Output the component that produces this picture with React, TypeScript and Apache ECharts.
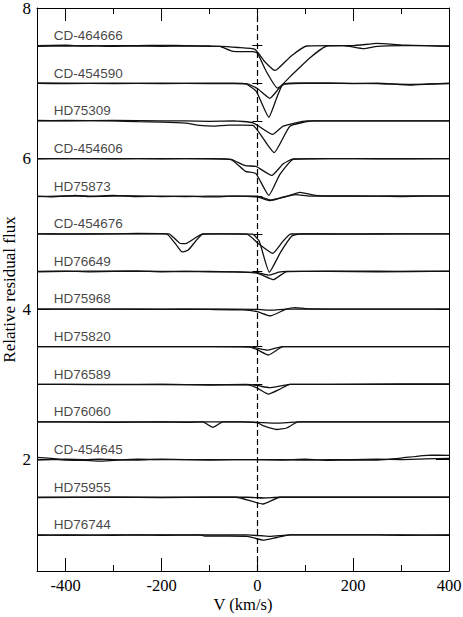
import React, { useEffect, useRef } from "react";
import * as echarts from "echarts";

// Star names (top to bottom) and vertical offsets added to normalised flux
const starNames = [
  "CD-464666", "CD-454590", "HD75309", "CD-454606", "HD75873", "CD-454676", "HD76649",
  "HD75968", "HD75820", "HD76589", "HD76060", "CD-454645", "HD75955", "HD76744",
];
const offsets = [6.5, 6.0, 5.5, 5.0, 4.5, 4.0, 3.5, 3.0, 2.5, 2.0, 1.5, 1.0, 0.5, 0.0];

// Tick values
const xMajorTicks = [-400, -200, 0, 200, 400];
const xMinorTicks = [-300, -100, 100, 300];
const yMajorTicks = [2, 4, 6, 8];
const yMinorTicks = [1, 1.5, 2.5, 3, 3.5, 4.5, 5, 5.5, 6.5, 7, 7.5];

// Profiles: [velocity km/s, normalised flux]
const cd464666_a = [[-460,1.0],[-400,1.005],[-366,0.995],[-300,1.0],[-250,1.0],[-200,1.003],[-150,1.0],[-100,0.995],[-78,0.99],[-51,0.925],[-9,0.92],[0,0.9],[20,0.64],[42,0.435],[75,0.63],[110,0.84],[145,0.995],[180,1.0],[222,0.96],[250,0.99],[300,1.0],[350,1.0],[400,0.99]];
const cd464666_b = [[-460,0.99],[-400,0.995],[-350,1.0],[-300,0.99],[-250,0.995],[-200,0.99],[-150,0.995],[-100,0.99],[-78,0.99],[-40,0.975],[-5,0.95],[15,0.79],[37,0.67],[70,0.86],[103,0.995],[150,1.0],[200,1.0],[250,1.03],[300,1.01],[350,1.0],[400,0.995]];

const cd454590_a = [[-460,1.0],[-400,0.995],[-300,1.0],[-200,0.995],[-100,1.0],[-50,1.0],[-23,0.99],[-2,0.89],[24,0.55],[40,0.8],[54,0.99],[100,1.0],[150,1.0],[200,0.995],[250,1.0],[320,0.975],[360,0.99],[400,1.0]];
const cd454590_b = [[-460,1.0],[-400,1.0],[-300,0.995],[-200,1.0],[-100,0.995],[-23,0.995],[0,0.93],[26,0.8],[45,0.93],[56,0.99],[80,1.0],[150,1.0],[250,0.995],[320,0.985],[400,0.995]];

const hd75309_a = [[-460,1.0],[-400,1.005],[-300,1.0],[-250,0.99],[-200,0.985],[-150,0.97],[-120,0.94],[-93,0.93],[-60,0.945],[-30,0.945],[-9,0.94],[35,0.58],[68,0.93],[117,1.0],[200,1.0],[300,1.0],[400,1.0]];
const hd75309_b = [[-460,1.005],[-400,1.0],[-300,1.005],[-200,1.0],[-150,1.0],[-100,0.995],[-50,1.0],[-9,0.975],[32,0.82],[54,0.93],[103,1.0],[200,1.0],[300,1.0],[400,1.0]];

const cd454606_a = [[-460,1.0],[-400,1.0],[-300,1.0],[-200,0.995],[-100,1.0],[-55,0.99],[-25,0.905],[-3,0.895],[30,0.775],[54,0.93],[75,0.995],[150,1.0],[250,1.0],[400,1.0]];
const cd454606_b = [[-460,0.995],[-400,1.0],[-300,0.995],[-200,1.0],[-100,0.995],[-55,0.985],[-25,0.83],[-3,0.8],[24,0.51],[47,0.79],[75,0.99],[150,1.0],[250,0.995],[400,1.0]];

const hd75873_a = [[-460,1.0],[-430,0.99],[-400,1.0],[-380,1.01],[-350,0.995],[-300,1.0],[-250,1.005],[-200,0.995],[-150,1.0],[-93,0.99],[-50,1.0],[0,0.99],[26,0.94],[60,0.995],[89,1.05],[120,1.01],[150,1.0],[250,1.0],[300,1.005],[400,1.0]];
const hd75873_b = [[-460,0.995],[-400,1.005],[-350,1.0],[-300,1.01],[-250,0.995],[-200,1.0],[-150,0.995],[-100,1.0],[-50,1.0],[0,1.0],[28,0.95],[55,0.99],[80,1.02],[110,1.0],[200,1.005],[300,0.995],[400,1.005]];

const cd454676_a = [[-460,1.0],[-400,1.0],[-300,1.0],[-250,1.005],[-190,1.0],[-170,0.86],[-157,0.76],[-145,0.78],[-114,0.995],[-80,1.0],[-40,1.0],[-10,0.995],[4,0.9],[25,0.49],[48,0.75],[72,0.97],[90,1.0],[200,1.0],[300,1.0],[400,1.0]];
const cd454676_b = [[-460,1.0],[-400,0.995],[-300,1.0],[-250,1.0],[-185,1.0],[-162,0.875],[-150,0.87],[-114,1.0],[-80,1.0],[-22,0.995],[4,0.86],[32,0.74],[52,0.89],[70,1.0],[200,0.995],[300,1.0],[400,1.0]];

const hd76649_a = [[-460,1.0],[-400,1.005],[-350,0.995],[-300,1.0],[-250,1.005],[-200,0.995],[-150,1.0],[-100,0.995],[-50,0.995],[-10,0.985],[5,0.965],[33,0.89],[60,0.995],[100,1.0],[200,1.005],[300,1.0],[400,1.0]];
const hd76649_b = [[-460,0.995],[-400,1.0],[-300,1.005],[-200,1.0],[-100,1.0],[-50,0.995],[0,0.985],[23,0.95],[45,0.99],[60,1.0],[150,1.0],[250,0.995],[400,1.005]];

const hd75968_a = [[-460,1.0],[-400,1.0],[-300,1.0],[-200,1.0],[-100,0.995],[-30,0.99],[0,0.965],[27,0.91],[60,1.0],[80,1.02],[100,1.005],[150,1.0],[250,1.0],[400,1.0]];
const hd75968_b = [[-460,1.0],[-400,1.0],[-300,1.0],[-200,0.995],[-100,1.0],[0,0.995],[30,0.985],[60,1.0],[100,1.0],[200,1.0],[300,1.0],[400,1.0]];

const hd75820_a = [[-460,1.0],[-300,1.0],[-200,1.0],[-100,1.0],[-16,0.995],[0,0.96],[23,0.89],[54,1.0],[150,1.0],[300,1.0],[400,1.0]];
const hd75820_b = [[-460,1.0],[-300,1.0],[-200,1.0],[-100,1.0],[-16,1.0],[0,0.98],[20,0.955],[40,0.985],[54,1.0],[200,1.0],[400,1.0]];

const hd76589_a = [[-460,1.0],[-400,1.0],[-300,0.995],[-200,1.0],[-100,0.99],[-23,0.995],[0,0.95],[23,0.87],[45,0.93],[68,1.0],[150,1.0],[300,1.005],[400,1.005]];
const hd76589_b = [[-460,1.0],[-300,1.0],[-200,1.0],[-100,0.995],[-23,1.0],[0,0.985],[25,0.955],[68,1.0],[200,1.0],[400,1.0]];

const hd76060_a = [[-460,1.0],[-400,1.0],[-300,0.995],[-200,1.0],[-150,0.995],[-114,1.0],[-93,0.93],[-72,1.0],[-30,1.0],[0,0.99],[12,0.95],[40,0.9],[61,0.92],[85,1.0],[150,1.0],[300,1.0],[400,1.0]];
const hd76060_b = [[-460,1.0],[-300,1.0],[-200,1.0],[-100,1.0],[-30,1.0],[0,0.995],[40,0.985],[85,1.0],[200,1.0],[400,1.0]];

const cd454645_a = [[-460,1.03],[-430,1.015],[-400,0.995],[-360,0.99],[-330,0.98],[-300,0.99],[-250,1.005],[-200,1.0],[-150,1.0],[-100,0.995],[-50,1.0],[0,1.0],[50,0.995],[100,1.005],[150,0.99],[200,0.995],[250,0.995],[300,1.02],[360,1.06],[400,1.055]];
const cd454645_b = [[-460,0.995],[-430,1.0],[-400,1.005],[-360,1.0],[-330,1.005],[-300,1.0],[-250,0.995],[-200,1.005],[-150,1.0],[-100,1.0],[-50,1.0],[0,1.0],[50,1.0],[100,0.995],[150,1.0],[200,1.0],[250,1.005],[300,1.0],[350,1.01],[400,1.015]];

const hd75955_a = [[-460,1.0],[-400,1.0],[-300,1.0],[-200,1.0],[-100,1.0],[-44,1.0],[12,0.91],[47,1.0],[150,1.0],[300,1.0],[400,1.0]];
const hd75955_b = [[-460,0.995],[-300,1.0],[-200,0.995],[-100,1.0],[-20,1.0],[10,0.99],[47,1.0],[200,1.0],[400,1.0]];

const hd76744_a = [[-460,0.995],[-400,1.0],[-300,0.995],[-250,1.0],[-200,0.995],[-120,1.0],[-110,0.985],[-60,0.985],[-20,0.98],[12,0.93],[40,0.965],[68,1.0],[150,1.0],[250,1.0],[300,0.995],[400,1.0]];
const hd76744_b = [[-460,1.0],[-400,0.995],[-300,1.0],[-200,1.0],[-120,1.0],[-60,1.0],[-20,1.0],[26,0.98],[68,1.0],[150,1.0],[300,1.0],[400,0.995]];

const profiles = [
  [cd464666_a, cd464666_b], [cd454590_a, cd454590_b], [hd75309_a, hd75309_b],
  [cd454606_a, cd454606_b], [hd75873_a, hd75873_b], [cd454676_a, cd454676_b],
  [hd76649_a, hd76649_b], [hd75968_a, hd75968_b], [hd75820_a, hd75820_b],
  [hd76589_a, hd76589_b], [hd76060_a, hd76060_b], [cd454645_a, cd454645_b],
  [hd75955_a, hd75955_b], [hd76744_a, hd76744_b],
];

const X_MIN = -460;
const X_MAX = 400;
const Y_MIN = 0.52;
const Y_MAX = 8;
const LABEL_V = -425;
const LABEL_DY = 0.135;

const serif = "Liberation Serif";
const sans = "Liberation Sans";

export default function App() {
  const ref = useRef<HTMLDivElement>(null);
  useEffect(() => {
    if (!ref.current) return;
    const chart = echarts.init(ref.current, undefined, { renderer: "svg" });

    const lineColor = "#111";
    const series: any[] = [];
    profiles.forEach((pair, i) => {
      pair.forEach((curve, j) => {
        series.push({
          type: "line",
          name: starNames[i] + (j === 0 ? " a" : " b"),
          data: curve.map(([v, f]) => [v, f + offsets[i]]),
          showSymbol: false,
          symbol: "none",
          smooth: 0.15,
          lineStyle: { color: lineColor, width: 1.3 },
          xAxisIndex: 0,
          yAxisIndex: 0,
          silent: true,
          z: 3,
          ...(i === 0 && j === 0
            ? {
                markLine: {
                  silent: true,
                  symbol: ["none", "none"],
                  label: { show: false },
                  lineStyle: { color: "#000", width: 1.2, type: [6, 3] },
                  data: [{ xAxis: 0 }],
                },
              }
            : {}),
        });
      });
    });

    series.push({
      type: "scatter",
      name: "labels",
      symbolSize: 0.01,
      itemStyle: { color: "rgba(0,0,0,0)" },
      silent: true,
      data: starNames.map((n, i) => ({ value: [LABEL_V, offsets[i] + 1 + LABEL_DY], name: n })),
      label: {
        show: true,
        position: "right",
        distance: 0,
        formatter: (p: any) => p.name,
        fontFamily: sans,
        fontSize: 13.5,
        color: "#111",
      },
      z: 5,
    });

    const baseX = { type: "value", min: X_MIN, max: X_MAX, splitLine: { show: false } };
    const baseY = { type: "value", min: Y_MIN, max: Y_MAX, splitLine: { show: false } };
    const axisLine = { show: true, onZero: false, lineStyle: { color: "#000", width: 1 } };
    const tickStyle = { color: "#000", width: 1 };

    chart.setOption({
      animation: false,
      backgroundColor: "#fff",
      grid: { left: 37, right: 14, top: 8, bottom: 46, containLabel: false, outerBoundsMode: "none" },
      xAxis: [
        {
          ...baseX,
          position: "bottom",
          axisLine,
          axisTick: { show: true, inside: true, length: 13, lineStyle: tickStyle, customValues: xMajorTicks },
          axisLabel: { show: true, customValues: xMajorTicks, fontFamily: serif, fontSize: 16.5, color: "#000", margin: 6 },
          name: "V (km/s)",
          nameLocation: "middle",
          nameGap: 25,
          nameMoveOverlap: false,
          nameTextStyle: { fontFamily: serif, fontSize: 16.5, color: "#000", verticalAlign: "top" },
        },
        {
          ...baseX,
          position: "bottom",
          axisLine: { show: false },
          axisTick: { show: true, inside: true, length: 6, lineStyle: tickStyle, customValues: xMinorTicks },
          axisLabel: { show: false },
        },
        {
          ...baseX,
          position: "top",
          axisLine,
          axisTick: { show: true, inside: true, length: 13, lineStyle: tickStyle, customValues: xMajorTicks },
          axisLabel: { show: false },
        },
        {
          ...baseX,
          position: "top",
          axisLine: { show: false },
          axisTick: { show: true, inside: true, length: 6, lineStyle: tickStyle, customValues: xMinorTicks },
          axisLabel: { show: false },
        },
      ],
      yAxis: [
        {
          ...baseY,
          position: "left",
          axisLine,
          axisTick: { show: true, inside: true, length: 13, lineStyle: tickStyle, customValues: yMajorTicks },
          axisLabel: { show: true, customValues: yMajorTicks, fontFamily: serif, fontSize: 17, color: "#000", margin: 6 },
          name: "Relative residual flux",
          nameLocation: "middle",
          nameGap: 19,
          nameMoveOverlap: false,
          nameTextStyle: { fontFamily: serif, fontSize: 17, color: "#000" },
        },
        {
          ...baseY,
          position: "left",
          axisLine: { show: false },
          axisTick: { show: true, inside: true, length: 5, lineStyle: tickStyle, customValues: yMinorTicks },
          axisLabel: { show: false },
        },
        {
          ...baseY,
          position: "right",
          axisLine,
          axisTick: { show: true, inside: true, length: 13, lineStyle: tickStyle, customValues: yMajorTicks },
          axisLabel: { show: false },
        },
        {
          ...baseY,
          position: "right",
          axisLine: { show: false },
          axisTick: { show: true, inside: true, length: 5, lineStyle: tickStyle, customValues: yMinorTicks },
          axisLabel: { show: false },
        },
      ],
      series,
    });

    return () => chart.dispose();
  }, []);

  return (
    <div
      ref={ref}
      style={{ position: "fixed", left: 0, top: 0, width: 463, height: 617, background: "#fff" }}
    />
  );
}
